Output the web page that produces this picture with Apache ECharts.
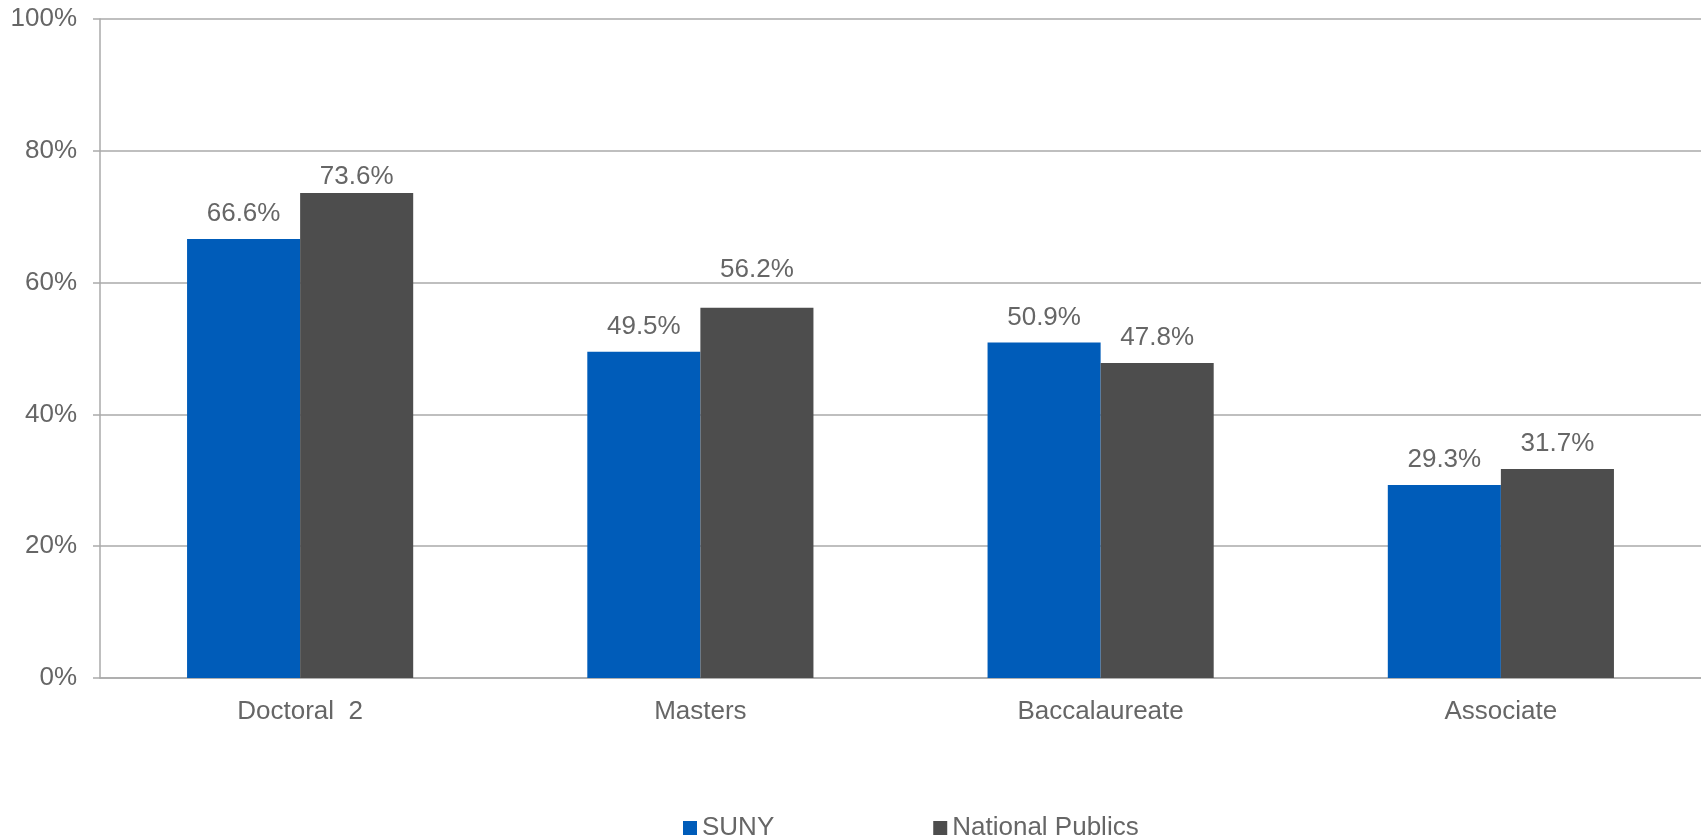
<!DOCTYPE html>
<html>
<head>
<meta charset="utf-8">
<script src="https://cdn.jsdelivr.net/npm/echarts@6/dist/echarts.min.js"></script>
<style>
html,body{margin:0;padding:0;background:#fff;}
#chart{width:1701px;height:835px;}
</style>
</head>
<body>
<div id="chart"></div>
<script>
var categories = ['Doctoral  2', 'Masters', 'Baccalaureate', 'Associate'];
var sunyValues = [66.6, 49.5, 50.9, 29.3];
var nationalValues = [73.6, 56.2, 47.8, 31.7];
var seriesNames = ['SUNY', 'National Publics'];

var font = 'Liberation Sans, Arial, sans-serif';
var textColor = '#666666';

// label placement tweaks (positions only, per series / category index)
var labelDistances = [
  [12, 12, 12, 12],
  [3, 25, 12, 12]
];

function buildData(values, s) {
  return values.map(function (v, i) {
    return { value: v, label: { distance: labelDistances[s][i] } };
  });
}

var chart = echarts.init(document.getElementById('chart'));
var labelCfg = {
  show: true,
  position: 'top',
  distance: 12,
  fontSize: 26,
  fontFamily: font,
  color: textColor,
  formatter: function (p) { return p.value.toFixed(1) + '%'; }
};
chart.setOption({
  backgroundColor: '#fff',
  animation: false,
  grid: { left: 100, right: 0, top: 19, bottom: 157, containLabel: false },
  legend: {
    left: 678,
    top: 810,
    itemWidth: 14,
    itemHeight: 14,
    itemGap: 159,
    icon: 'rect',
    textStyle: { fontSize: 26, fontFamily: font, color: textColor },
    data: seriesNames
  },
  xAxis: {
    type: 'category',
    data: categories,
    axisLine: { show: true, lineStyle: { color: '#aaaaaa', width: 1.5 } },
    axisTick: { show: false },
    axisLabel: { margin: 21, fontSize: 26, fontFamily: font, color: textColor }
  },
  yAxis: {
    type: 'value',
    min: 0,
    max: 100,
    interval: 20,
    axisLine: { show: true, lineStyle: { color: '#aaaaaa', width: 1.5 } },
    axisTick: { show: true, length: 7, lineStyle: { color: '#aaaaaa', width: 1.5 } },
    axisLabel: { margin: 23, fontSize: 26, fontFamily: font, color: textColor, formatter: '{value}%' },
    splitLine: { show: true, lineStyle: { color: '#aaaaaa', width: 1.5 } }
  },
  series: [
    {
      name: seriesNames[0],
      type: 'bar',
      data: buildData(sunyValues, 0),
      barGap: '0%',
      barCategoryGap: '43.5%',
      itemStyle: { color: '#005CB9' },
      label: labelCfg
    },
    {
      name: seriesNames[1],
      type: 'bar',
      data: buildData(nationalValues, 1),
      barGap: '0%',
      barCategoryGap: '43.5%',
      itemStyle: { color: '#4D4D4D' },
      label: labelCfg
    }
  ]
});
</script>
</body>
</html>
